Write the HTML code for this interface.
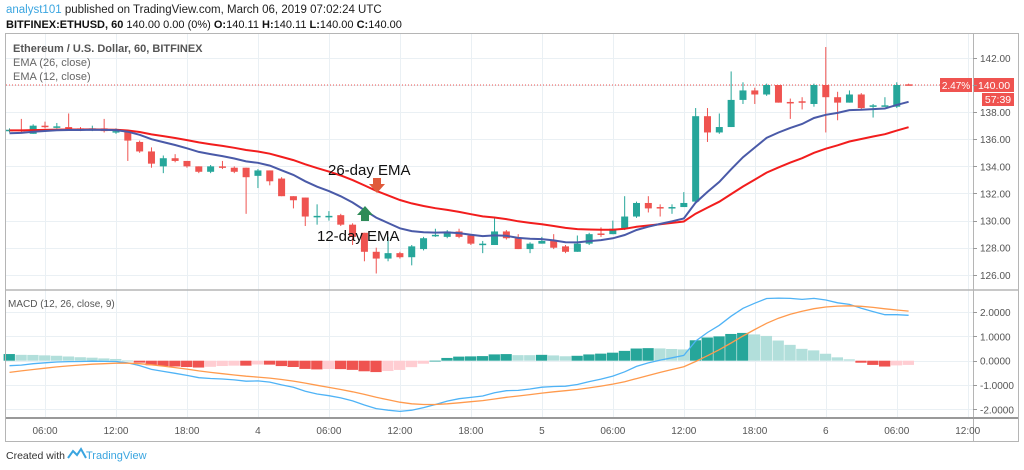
<!DOCTYPE html>
<html><head><meta charset="utf-8"><style>
html,body{margin:0;padding:0;background:#fff;width:1024px;height:470px;overflow:hidden}
svg text{font-family:"Liberation Sans",sans-serif}
</style></head><body>
<svg id="chart" width="1024" height="470" viewBox="0 0 1024 470" xmlns="http://www.w3.org/2000/svg">
<rect width="1024" height="470" fill="#fff"/>
<text x="6" y="13" font-size="11.5" fill="#222"><tspan fill="#3aa5e0">analyst101</tspan> published on TradingView.com, March 06, 2019 07:02:24 UTC</text>
<text x="6" y="28" font-size="11" fill="#111"><tspan font-weight="bold">BITFINEX:ETHUSD, 60</tspan> 140.00 0.00 (0%) <tspan font-weight="bold">O:</tspan>140.11 <tspan font-weight="bold">H:</tspan>140.11 <tspan font-weight="bold">L:</tspan>140.00 <tspan font-weight="bold">C:</tspan>140.00</text>
<g id="grid"></g>
<g id="hist"></g>
<g id="candles" clip-path="url(#mainclip)"></g>
<g id="lines"></g>
<defs><clipPath id="mainclip"><rect x="6" y="34" width="967" height="256"/></clipPath></defs>
<rect x="5.5" y="33.5" width="1013" height="408" fill="none" stroke="#b5b5b5"/>
<line x1="973.5" y1="34" x2="973.5" y2="441" stroke="#b5b5b5"/>
<line x1="6" y1="290" x2="1018" y2="290" stroke="#b5b5b5" stroke-width="1.5"/>
<line x1="6" y1="418" x2="1018" y2="418" stroke="#999" stroke-width="2"/>
<text x="13" y="52" font-size="11" fill="#555" font-weight="bold">Ethereum / U.S. Dollar, 60, BITFINEX</text>
<text x="13" y="66" font-size="11" fill="#666">EMA (26, close)</text>
<text x="13" y="80" font-size="11" fill="#666">EMA (12, close)</text>
<text x="8" y="307" font-size="10" fill="#555">MACD (12, 26, close, 9)</text>
<g>
<text x="328" y="175" font-size="15" fill="#111">26-day EMA</text>
<path d="M373 178 h8 v6 h4 l-8 9 l-8 -9 h4 z" fill="#e05a3a"/>
</g>
<g>
<path d="M365 206 l8 9 h-4 v6 h-8 v-6 h-4 z" fill="#2e8b57"/>
<text x="317" y="241" font-size="15" fill="#111">12-day EMA</text>
</g>
<g>
<rect x="940" y="78" width="32" height="14" fill="#ef5350"/>
<text x="956" y="89" font-size="10" fill="#fff" text-anchor="middle">2.47%</text>
<rect x="974" y="78" width="40" height="14" fill="#ef5350"/>
<text x="994" y="89" font-size="10.5" fill="#fff" text-anchor="middle">140.00</text>
<rect x="982" y="93" width="32" height="13" fill="#ef5350"/>
<text x="998" y="103" font-size="10.5" fill="#fff" text-anchor="middle">57:39</text>
</g>
<g>
<text x="6" y="459" font-size="10.5" fill="#333">Created with</text>
<path d="M68 458 l5 -7 l4 4 l4 -6 l5 9" fill="none" stroke="#3aa5e0" stroke-width="2"/>
<text x="86" y="459" font-size="11" fill="#3aa5e0">TradingView</text>
</g>
</svg>
<script>
const hours=[3,4,5,6,7,8,9,10,11,12,13,14,15,16,17,18,19,20,21,22,23,24,25,26,27,28,29,30,31,32,33,34,35,36,37,38,39,40,41,42,43,44,45,46,47,48,49,50,51,52,53,54,55,56,57,58,59,60,61,62,63,64,65,66,67,68,69,70,71,72,73,74,75,76,77,78,79];
const opens=[136.6,136.7,136.4,137.0,136.9,136.9,136.8,136.7,136.8,136.6,136.6,135.8,135.1,134.0,134.6,134.4,134.0,133.6,134.0,133.9,133.9,133.3,133.7,133.1,131.8,131.7,130.3,130.3,130.4,129.7,129.1,127.7,127.2,127.6,127.3,127.9,128.9,128.8,129.2,128.9,128.25,128.2,129.2,128.7,127.9,128.3,128.5,128.1,127.7,128.3,129.05,129.0,129.4,130.3,131.3,131.0,130.9,131.0,131.4,137.7,136.5,136.9,138.9,139.6,139.3,140.0,138.75,138.8,138.6,140.0,139.1,138.7,139.3,138.45,138.45,138.4,140.05];
const closes=[136.7,136.6,137.0,136.9,136.95,136.8,136.7,136.8,136.6,136.6,135.9,135.1,134.2,134.6,134.4,134.0,133.6,134.0,133.95,133.6,133.2,133.7,132.9,131.8,131.5,130.3,130.35,130.35,129.7,128.8,127.7,127.2,127.6,127.3,128.1,128.7,128.95,129.2,128.8,128.3,128.3,129.2,128.7,127.9,128.3,128.5,128.0,127.7,128.3,129.0,129.0,129.4,130.3,131.3,130.9,130.9,131.0,131.3,137.7,136.5,136.9,138.9,139.6,139.3,140.0,138.7,138.7,138.7,140.0,139.1,138.7,139.3,138.3,138.5,138.5,140.0,140.0];
const highs=[136.8,137.5,137.1,137.3,137.2,137.9,136.9,137.0,137.5,136.8,136.7,135.9,135.4,134.8,134.9,134.4,134.0,134.1,134.4,134.0,133.9,133.8,133.7,133.2,131.8,131.7,131.2,130.7,130.5,129.8,129.1,128.0,128.8,127.7,128.2,128.8,129.4,129.3,129.4,129.0,128.5,130.2,129.3,129.0,128.4,128.8,129.0,128.2,128.9,129.1,129.5,130.0,131.8,131.4,131.8,131.2,131.2,132.1,138.3,138.3,137.9,141.0,140.2,139.8,140.1,140.0,139.0,139.1,140.1,142.8,139.5,139.6,139.4,138.6,139.1,140.2,140.1];
const lows=[136.5,136.5,136.4,136.8,136.8,136.7,136.6,136.6,136.5,136.4,134.4,135.0,133.9,133.5,134.3,133.9,133.5,133.5,133.8,133.5,130.5,132.4,132.6,131.8,130.9,129.6,129.7,130.0,129.6,128.2,127.0,126.1,127.0,127.2,126.7,127.8,128.8,128.7,128.7,128.2,127.6,128.2,128.6,127.9,127.6,128.3,127.9,127.6,127.7,128.2,128.8,129.0,129.3,130.2,130.6,130.3,130.5,131.0,131.3,135.8,136.4,136.9,138.6,138.6,139.2,138.7,137.5,138.2,138.4,136.5,137.4,138.7,138.2,137.6,138.4,138.3,140.0];
const ema12Seed=136.4, ema26Seed=136.65, signalSeed=-0.55;
const priceTicks=[126,128,130,132,134,136,138,140,142];
const macdTicks=[2,1,0,-1,-2];
const macdTickLabels=["2.0000","1.0000","0.0000","-1.0000","-2.0000"];
const timeTickHours=[6,12,18,24,30,36,42,48,54,60,66,72,78,84];
const timeTickLabels=["06:00","12:00","18:00","4","06:00","12:00","18:00","5","06:00","12:00","18:00","6","06:00","12:00"];
const lastPrice=140.00;

const NS="http://www.w3.org/2000/svg";
const X=h=>45+(h-6)*11.83;
const Y=p=>85+(140-p)*13.56;
const MY=v=>360.7-v*24.3;
function mk(tag,attrs,parent){const e=document.createElementNS(NS,tag);for(const k in attrs)e.setAttribute(k,attrs[k]);parent.appendChild(e);return e;}
const grid=document.getElementById('grid'),cg=document.getElementById('candles'),lg=document.getElementById('lines'),hg=document.getElementById('hist'),svg=document.getElementById('chart');

timeTickHours.forEach((h,i)=>{
  const x=Math.round(X(h))+0.5;
  const gl=mk('line',{x1:x,y1:34,x2:x,y2:418,stroke:'#eaf0f4'},grid);
  
  
  const t=mk('text',{x:X(h),y:434,'font-size':10,fill:'#555','text-anchor':'middle'},svg);
  t.textContent=timeTickLabels[i];
  
  
});
priceTicks.forEach(p=>{
  const y=Math.round(Y(p))+0.5;
  const gl=mk('line',{x1:6,y1:y,x2:973,y2:y,stroke:'#eaf0f4'},grid);
  
  
  mk('line',{x1:973,y1:y,x2:977,y2:y,stroke:'#999'},svg);
  if(p!==140){
    const t=mk('text',{x:980,y:Y(p)+4,'font-size':10,fill:'#555'},svg);
    t.textContent=p.toFixed(2);
    
    
  }
});
macdTicks.forEach((v,i)=>{
  const y=Math.round(MY(v))+0.5;
  const gl=mk('line',{x1:6,y1:y,x2:973,y2:y,stroke:'#eaf0f4'},grid);
  
  
  mk('line',{x1:973,y1:y,x2:977,y2:y,stroke:'#999'},svg);
  const t=mk('text',{x:980,y:MY(v)+4,'font-size':10,fill:'#555'},svg);
  t.textContent=macdTickLabels[i];
  
  
});
// last price dotted line
const lp=mk('line',{x1:6,y1:Y(lastPrice),x2:940,y2:Y(lastPrice),stroke:'#ef5350','stroke-dasharray':'1,2','stroke-width':1},grid);



// candles
hours.forEach((h,i)=>{
  const up=closes[i]>=opens[i];const col=up?'#26a69a':'#ef5350';
  const x=X(h);
  const w=mk('line',{x1:x,y1:Y(highs[i]),x2:x,y2:Y(lows[i]),stroke:col,'stroke-width':1},cg);
  
  
  const top=Y(Math.max(opens[i],closes[i])),bot=Y(Math.min(opens[i],closes[i]));
  const b=mk('rect',{x:x-3.5,y:top,width:7,height:Math.max(1.5,bot-top),fill:col},cg);
  
  
});

// EMAs & MACD
function ema(vals,n,seed){const k=2/(n+1);let e=seed;return vals.map(v=>(e=v*k+e*(1-k)));}
const e12=ema(closes,12,ema12Seed),e26=ema(closes,26,ema26Seed);
const macd=e12.map((v,i)=>v-e26[i]);
const sig=ema(macd,9,signalSeed);
const hist=macd.map((v,i)=>v-sig[i]);
function path(vals,yf){return vals.map((v,i)=>(i?'L':'M')+X(hours[i]).toFixed(1)+' '+yf(v).toFixed(1)).join(' ');}
// histogram
hist.forEach((v,i)=>{
  const prev=i?hist[i-1]:v;
  let col;
  if(v>=0)col=v>=prev?'#26a69a':'#b2dfdb';else col=v<=prev?'#ef5350':'#ffcdd2';
  const x=X(hours[i]);const y0=MY(0),y1=MY(v);
  const r=mk('rect',{x:x-5.9,y:Math.min(y0,y1),width:11.3,height:Math.max(0.8,Math.abs(y1-y0)),fill:col},hg);
  
  
});
const l26=mk('path',{d:path(e26,Y),fill:'none',stroke:'#f21d1d','stroke-width':2},lg);


const l12=mk('path',{d:path(e12,Y),fill:'none',stroke:'#4a5aa8','stroke-width':2},lg);


const lm=mk('path',{d:path(macd,MY),fill:'none',stroke:'#4fb3f6','stroke-width':1.3},lg);


const ls=mk('path',{d:path(sig,MY),fill:'none',stroke:'#ff9a4d','stroke-width':1.3},lg);


</script>
</body></html>
